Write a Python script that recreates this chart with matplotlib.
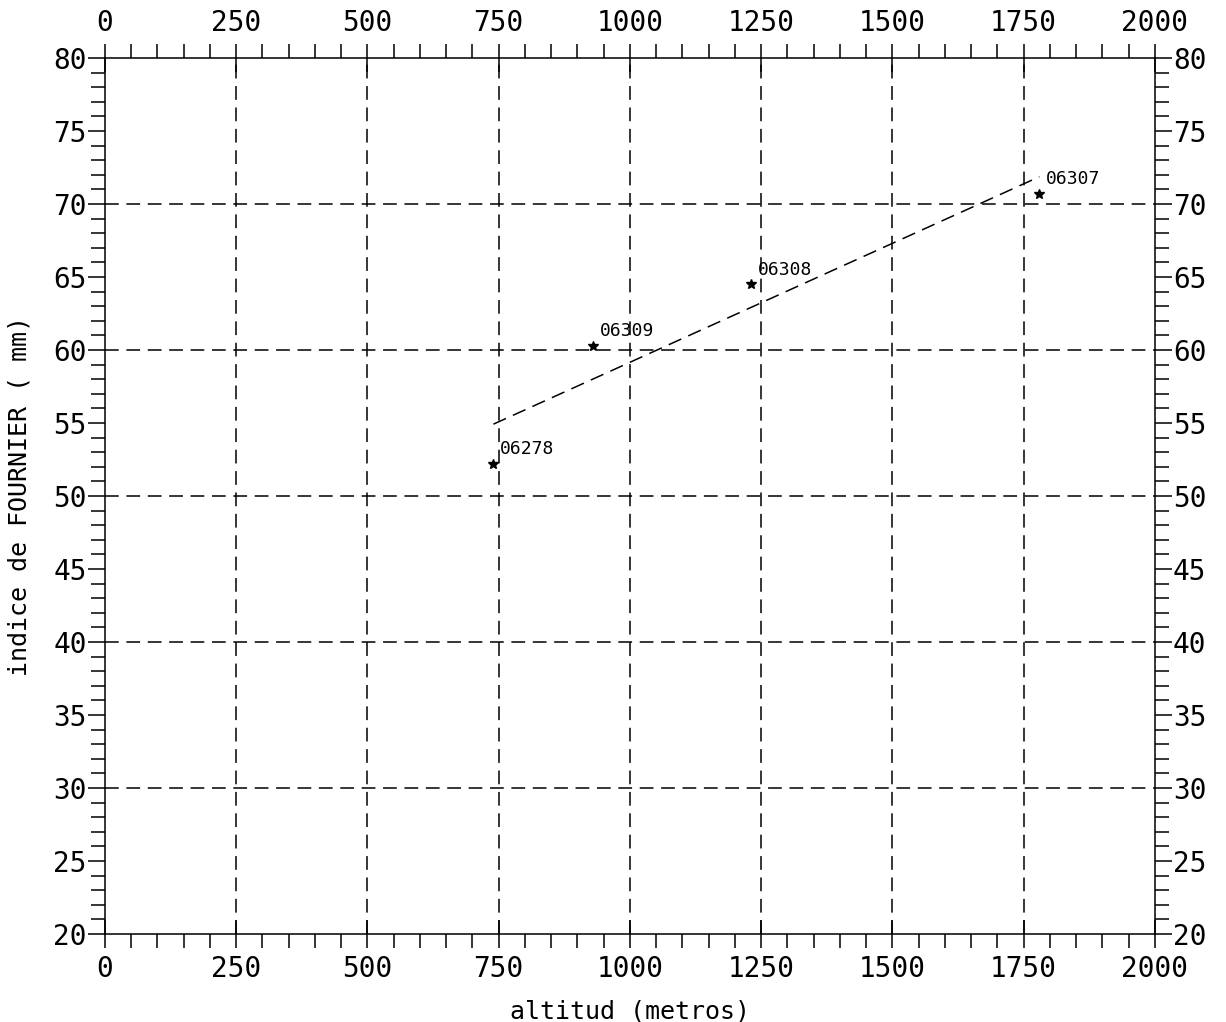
import numpy as np
import matplotlib
matplotlib.use("Agg")
import matplotlib.pyplot as plt
from matplotlib.ticker import MultipleLocator

# estaciones: altitud (m) e indice de Fournier (mm)
estaciones = ["06278", "06309", "06308", "06307"]
altitud = [740, 929, 1231, 1780]
fournier = [52.2, 60.3, 64.5, 70.7]

x_ticks = [0, 250, 500, 750, 1000, 1250, 1500, 1750, 2000]
y_ticks = [20, 25, 30, 35, 40, 45, 50, 55, 60, 65, 70, 75, 80]

# recta de regresion
coef = np.polyfit(altitud, fournier, 1)
xr = np.array([min(altitud), max(altitud)])
yr = np.polyval(coef, xr)

plt.rcParams['font.family'] = ['DejaVu Sans Mono', 'DejaVu Sans']

fig = plt.figure(figsize=(12.26, 10.22), dpi=100)
ax = fig.add_axes([0.0856, 0.0861, 0.8564, 0.8572])

dash = (0, (9, 5))
for xv in x_ticks[1:-1]:
    ax.axvline(xv, color="black", lw=1.1, ls=dash, zorder=1)
for yv in range(30, 80, 10):
    ax.axhline(yv, color="black", lw=1.1, ls=dash, zorder=1)

ax.plot(xr, yr, color="black", lw=1.1, ls=dash, zorder=2)
ax.plot(altitud, fournier, ls="none", marker="*", ms=7, color="black", zorder=3)

for nom, xv, yv in zip(estaciones, altitud, fournier):
    ax.annotate(nom, (xv, yv), xytext=(5, 4), textcoords="offset points",
                fontsize=13, ha="left", va="bottom")

ax.set_xlim(0, 2000)
ax.set_ylim(20, 80)
ax.set_xticks(x_ticks)
ax.set_yticks(y_ticks)
ax.xaxis.set_minor_locator(MultipleLocator(50))
ax.yaxis.set_minor_locator(MultipleLocator(1))

ax.tick_params(axis="x", which="major", direction="inout", length=20, width=1.1,
               top=True, labeltop=True, labelsize=20, pad=5)
ax.tick_params(axis="x", which="minor", direction="out", length=10, width=1.1, top=True)
ax.tick_params(axis="y", which="major", direction="out", length=12, width=1.1,
               right=True, labelright=True, labelsize=20, pad=1)
ax.tick_params(axis="y", which="minor", direction="out", length=10, width=1.1, right=True)

for sp in ax.spines.values():
    sp.set_linewidth(1.1)

ax.set_xlabel("altitud (metros)", fontsize=18, labelpad=12)
ax.set_ylabel("indice de FOURNIER ( mm)", fontsize=18, labelpad=16)

fig.savefig("out.png", dpi=100)
